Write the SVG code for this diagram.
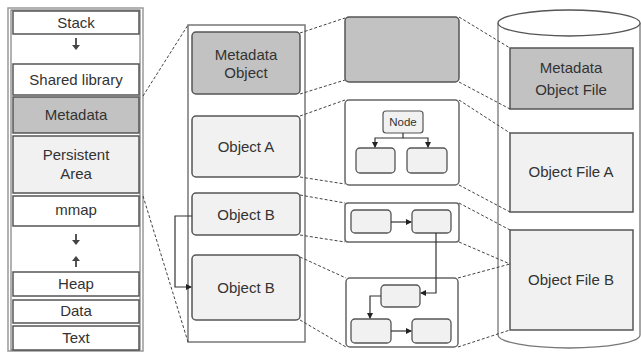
<svg xmlns="http://www.w3.org/2000/svg" width="641" height="352" viewBox="0 0 641 352">
<style>
text{font-family:"Liberation Sans",Arial,sans-serif;font-size:15px;fill:#333;text-anchor:middle}
.seg{fill:#fff;stroke:#555;stroke-width:1.5}
.gray{fill:#c2c2c2;stroke:#555;stroke-width:1.5}
.light{fill:#f1f1f1;stroke:#555;stroke-width:1.5}
.panel{fill:#fff;stroke:#666;stroke-width:1.5}
.small{fill:#f1f1f1;stroke:#555;stroke-width:1.3}
.dash{fill:none;stroke:#444;stroke-width:1;stroke-dasharray:3,2}
.conn{fill:none;stroke:#333;stroke-width:1.2}
</style>
<defs>
<marker id="ah" markerWidth="6" markerHeight="6" refX="5" refY="3" orient="auto" markerUnits="userSpaceOnUse"><path d="M0,0 L6,3 L0,6 z" fill="#222"/></marker>
</defs>

<g id="memory-layout">
<rect x="8" y="8" width="135" height="343" fill="#fff" stroke="#999" stroke-width="1.5"/>
<rect x="11" y="10" width="129" height="340" fill="none" stroke="#666" stroke-width="1"/>
<g id="stack"><rect class="seg" x="13" y="11" width="126" height="23"/><text x="76" y="28">Stack</text></g>
<path d="M76,38 v8" stroke="#444" stroke-width="1.8" fill="none"/><path d="M72,45 l4,5 l4,-5 z" fill="#444"/>
<g id="shared-library"><rect class="seg" x="13" y="64" width="126" height="31"/><text x="76" y="85">Shared library</text></g>
<g id="metadata"><rect class="gray" x="13" y="97" width="126" height="36"/><text x="76" y="120">Metadata</text></g>
<g id="persistent-area"><rect class="light" x="13" y="136" width="126" height="57"/><text x="76" y="160">Persistent</text><text x="76" y="179">Area</text></g>
<g id="mmap"><rect class="seg" x="13" y="196" width="126" height="30"/><text x="76" y="215">mmap</text></g>
<path d="M76,234 v7" stroke="#444" stroke-width="1.8" fill="none"/><path d="M72,240 l4,5 l4,-5 z" fill="#444"/>
<path d="M76,267 v-7" stroke="#444" stroke-width="1.8" fill="none"/><path d="M72,261 l4,-5 l4,5 z" fill="#444"/>
<g id="heap"><rect class="seg" x="13" y="272" width="126" height="24"/><text x="76" y="289">Heap</text></g>
<g id="data"><rect class="seg" x="13" y="300" width="126" height="23"/><text x="76" y="316">Data</text></g>
<g id="text"><rect class="seg" x="13" y="326" width="126" height="24"/><text x="76" y="343">Text</text></g>
</g>

<g id="persistent-objects">
<rect x="188" y="25" width="117" height="317" fill="#fff" stroke="#777" stroke-width="1.5"/>
<g id="metadata-object"><rect class="gray" x="192" y="32" width="108" height="62" rx="4"/><text x="246" y="60">Metadata</text><text x="246" y="78">Object</text></g>
<g id="object-a"><rect class="light" x="192" y="116" width="108" height="61" rx="4"/><text x="246" y="152">Object A</text></g>
<g id="object-b1"><rect class="light" x="192" y="193" width="108" height="42" rx="4"/><text x="246" y="220">Object B</text></g>
<g id="object-b2"><rect class="light" x="192" y="255" width="108" height="65" rx="4"/><text x="246" y="293">Object B</text></g>
</g>

<g id="metadata-panel"><rect class="gray" x="345" y="17" width="114" height="65" rx="4"/></g>
<g id="panel-a">
<rect class="panel" x="345" y="100" width="114" height="85" rx="4"/>
<g id="node"><rect x="383" y="111" width="40" height="22" rx="3" fill="#f1f1f1" stroke="#555" stroke-width="1.2"/><text x="403" y="126" style="font-size:11.5px">Node</text></g>
<rect class="small" x="356" y="148" width="39" height="25" rx="4"/>
<rect class="small" x="407" y="148" width="40" height="25" rx="4"/>
</g>
<g id="panel-b1">
<rect class="panel" x="345" y="203" width="114" height="39" rx="3"/>
<rect class="small" x="351" y="210" width="40" height="23" rx="4"/>
<rect class="small" x="412" y="210" width="39" height="23" rx="4"/>
</g>
<g id="panel-b2">
<rect class="panel" x="346" y="278" width="112" height="69" rx="4"/>
<rect class="small" x="381" y="285" width="39" height="22" rx="4"/>
<rect class="small" x="351" y="319" width="40" height="24" rx="4"/>
<rect class="small" x="412" y="319" width="39" height="24" rx="4"/>
</g>

<g id="disk">
<path d="M498,23 V335 A71,13 0 0 0 640,335 V23" fill="#fff" stroke="#777" stroke-width="1.3"/>
<ellipse cx="569" cy="23" rx="71" ry="13" fill="#fff" stroke="#555" stroke-width="1.3"/>
<g id="metadata-object-file"><rect class="gray" x="510" y="48" width="123" height="61"/><text x="571" y="73">Metadata</text><text x="571" y="95">Object File</text></g>
<g id="object-file-a"><rect class="light" x="510" y="133" width="123" height="79"/><text x="571" y="177">Object File A</text></g>
<g id="object-file-b"><rect class="light" x="510" y="230" width="123" height="100"/><text x="571" y="285">Object File B</text></g>
</g>

<g id="connectors">
<path class="dash" d="M143,96 L188,25"/>
<path class="dash" d="M143,196 L188,342"/>
<path class="dash" d="M300,33 L345,18"/>
<path class="dash" d="M300,94 L345,80"/>
<path class="dash" d="M300,116 L345,100"/>
<path class="dash" d="M300,177 L345,184"/>
<path class="dash" d="M300,195 L345,203"/>
<path class="dash" d="M300,235 L345,242"/>
<path class="dash" d="M300,257 L346,278"/>
<path class="dash" d="M300,320 L346,347"/>
<path class="dash" d="M459,17 L510,48"/>
<path class="dash" d="M459,82 L510,109"/>
<path class="dash" d="M459,100 L510,133"/>
<path class="dash" d="M459,185 L510,212"/>
<path class="dash" d="M459,203 L510,230"/>
<path class="dash" d="M459,242 L510,264"/>
<path class="dash" d="M458,278 L510,264"/>
<path class="dash" d="M458,347 L510,330"/>
<path class="conn" d="M192,216 H175 V287 H191" marker-end="url(#ah)"/>
<path class="conn" d="M403,133 V138 H375 V147" marker-end="url(#ah)"/>
<path class="conn" d="M403,138 H428 V147" marker-end="url(#ah)"/>
<path class="conn" d="M391,222 H411" marker-end="url(#ah)"/>
<path class="conn" d="M436,233 V293 H421" marker-end="url(#ah)"/>
<path class="conn" d="M381,296 H370 V318" marker-end="url(#ah)"/>
<path class="conn" d="M391,331 H411" marker-end="url(#ah)"/>
</g>
</svg>
